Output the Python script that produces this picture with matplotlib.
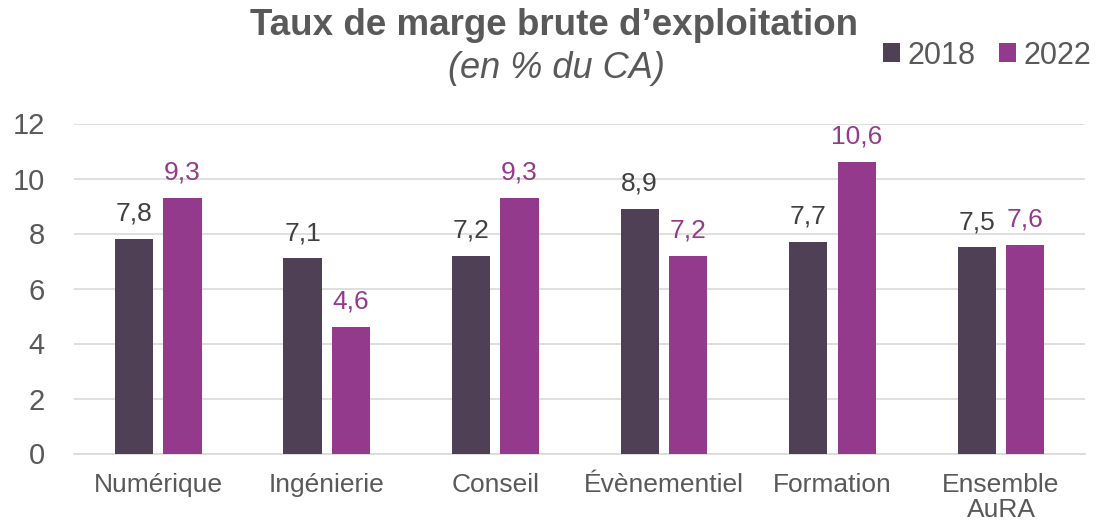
import matplotlib
matplotlib.use("Agg")
import matplotlib.pyplot as plt
import numpy as np

categories = ["Numérique", "Ingénierie", "Conseil", "Évènementiel", "Formation", "Ensemble\nAuRA"]
series_names = ["2018", "2022"]
values_2018 = [7.8, 7.1, 7.2, 8.9, 7.7, 7.5]
values_2022 = [9.3, 4.6, 9.3, 7.2, 10.6, 7.6]
yticks = [0, 2, 4, 6, 8, 10, 12]

c2018 = "#4F4055"
c2022 = "#943A8C"
gray = "#595959"

plt.rcParams['font.family'] = ['Liberation Sans', 'DejaVu Sans']

W, H = 1097, 527
fig = plt.figure(figsize=(W / 100, H / 100), dpi=100)
ax = fig.add_axes([74 / W, (H - 453.5) / H, (1085.3 - 74) / W, (453.5 - 123.5) / H])

x = np.arange(len(categories))
w = 0.227
off = 0.1436
b1 = ax.bar(x - off, values_2018, w, color=c2018, zorder=3, label=series_names[0])
b2 = ax.bar(x + off, values_2022, w, color=c2022, zorder=3, label=series_names[1])

for xi, v in zip(x, values_2018):
    ax.annotate(f"{v:.1f}".replace(".", ","), (xi - off, v), xytext=(0, 9.5),
                textcoords="offset points", ha="center", va="bottom", fontsize=19, color="#404040")
for xi, v in zip(x, values_2022):
    ax.annotate(f"{v:.1f}".replace(".", ","), (xi + off, v), xytext=(0, 9.5),
                textcoords="offset points", ha="center", va="bottom", fontsize=19, color=c2022)

ax.set_xlim(-0.5, len(categories) - 0.5)
ax.set_ylim(0, 12)
ax.set_yticks(yticks)
ax.set_yticklabels([str(t) for t in yticks], fontsize=21, color=gray)
ax.set_xticks(x)
ax.set_xticklabels(categories, fontsize=19, color=gray, linespacing=1.08)
ax.tick_params(axis="x", length=0, pad=14)
ax.tick_params(axis="y", length=0, pad=21)
ax.yaxis.grid(True, color="#D9D9D9", linewidth=1.2, zorder=0)
for s in ["top", "right", "left"]:
    ax.spines[s].set_visible(False)
ax.spines["bottom"].set_color("#D9D9D9")
ax.spines["bottom"].set_linewidth(1.2)

fig.text(554 / W, 1 - 35 / H, "Taux de marge brute d\u2019exploitation", ha="center", va="baseline",
         fontsize=26.5, fontweight="bold", color=gray)
fig.text(556 / W, 1 - 78 / H, "(en % du CA)", ha="center", va="baseline",
         fontsize=26, style="italic", color=gray)

leg = fig.legend(handles=[b1, b2], loc="center left", bbox_to_anchor=(883 / W, 1 - 55.5 / H), ncol=2,
                 frameon=False, fontsize=22, handlelength=0.56, handleheight=0.56,
                 handletextpad=0.23, columnspacing=0.78, labelcolor=gray,
                 borderpad=0, borderaxespad=0)

fig.savefig("out.png", dpi=100)
